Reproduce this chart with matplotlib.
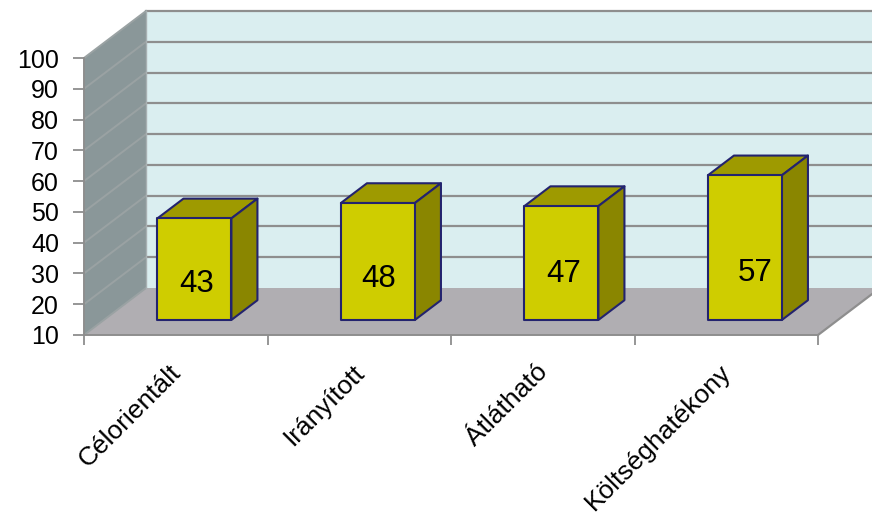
import matplotlib
matplotlib.use("Agg")
import matplotlib.pyplot as plt
from matplotlib.patches import Polygon
import numpy as np

plt.rcParams['font.family'] = ['Liberation Sans', 'DejaVu Sans']

categories = ['Célorientált', 'Irányított', 'Átlátható', 'Költséghatékony']
values = [43, 48, 47, 57]
label_heights = [26.6, 28.3, 29.9, 30.3]
label_shifts = [0.016, 0.005, 0.016, 0.055]
yticks = [10, 20, 30, 40, 50, 60, 70, 80, 90, 100]

W, H = 872, 513
fig = plt.figure(figsize=(W/100, H/100), dpi=100)
L, R, T, B = 84, 818, 58, 335
ax = fig.add_axes([L/W, 1-B/H, (R-L)/W, (B-T)/H])
ax.set_xlim(0, 4)
ax.set_ylim(10, 100)

px_x = (R-L)/4
px_y = (B-T)/90
DX, DY = 62/px_x, 47/px_y     # full depth of the chart box in data units


def P(x, v, d):
    """Oblique projection: depth d in 0..1 shifts a point up and right."""
    return (x + d*DX, v + d*DY)


def poly(points, **kw):
    kw.setdefault('clip_on', False)
    ax.add_patch(Polygon(points, closed=True, **kw))


grid_c = '#8e8e8e'
# back wall, side wall, floor
poly([P(0, 10, 1), P(4, 10, 1), P(4, 100, 1), P(0, 100, 1)], fc='#daeef0', ec='none', zorder=1)
poly([P(0, 10, 0), P(0, 10, 1), P(0, 100, 1), P(0, 100, 0)], fc='#8a9799', ec='none', zorder=1)
poly([P(0, 10, 0), P(4, 10, 0), P(4, 10, 1), P(0, 10, 1)], fc='#b0aeb2', ec='none', zorder=1)
for v in yticks:
    a, b, c = P(0, v, 0), P(0, v, 1), P(4, v, 1)
    if v > 10:
        ax.plot([b[0], c[0]], [b[1], c[1]], color=grid_c, lw=1.6, clip_on=False, zorder=2)
    ax.plot([a[0], b[0]], [a[1], b[1]], color='#9aa2a3', lw=1.4, clip_on=False, zorder=2)
b0, b1 = P(0, 10, 1), P(0, 100, 1)
ax.plot([b0[0], b1[0]], [b0[1], b1[1]], color='#a8b0b2', lw=1.0, clip_on=False, zorder=2)
e0, e1 = P(4, 10, 0), P(4, 10, 1)
ax.plot([e0[0], e1[0]], [e0[1], e1[1]], color=grid_c, lw=1.6, clip_on=False, zorder=2)

# bars
bw = 74/px_x
d0, d1 = 0.32, 0.74
edge = dict(ec='#23236e', lw=1.5, joinstyle='round')
for i, v in enumerate(values):
    x0 = i + 0.5 - bw/2 - 0.0065
    x1 = x0 + bw
    z = 5 + i
    poly([P(x0, v, d0), P(x1, v, d0), P(x1, v, d1), P(x0, v, d1)], fc='#9e9a00', zorder=z, **edge)
    poly([P(x1, 10, d0), P(x1, 10, d1), P(x1, v, d1), P(x1, v, d0)], fc='#8a8600', zorder=z, **edge)
    poly([P(x0, 10, d0), P(x1, 10, d0), P(x1, v, d0), P(x0, v, d0)], fc='#cfcd00', zorder=z, **edge)
    ax.text(i + 0.5 + 0.1 + label_shifts[i], label_heights[i], str(v), ha='center', va='center',
            fontsize=22.5, color='black', zorder=20)

for s in ('top', 'right'):
    ax.spines[s].set_visible(False)
for s in ('left', 'bottom'):
    ax.spines[s].set_color(grid_c)
    ax.spines[s].set_linewidth(1.4)
    ax.spines[s].set_zorder(3)
ax.patch.set_visible(False)

ax.set_yticks(yticks)
ax.set_yticklabels([str(t) for t in yticks], fontsize=18)
ax.tick_params(axis='y', length=8, width=1.3, color=grid_c, pad=10)
ax.set_xticks(range(5))
ax.set_xticklabels([])
ax.tick_params(axis='x', which='major', length=7, width=1.3, color=grid_c)
ax.set_xticks([i + 0.46 for i in range(4)], minor=True)
ax.set_xticklabels(categories, minor=True, rotation=45, ha='right', va='top',
                   rotation_mode='anchor', fontsize=19)
ax.tick_params(axis='x', which='minor', length=0, pad=18)

fig.savefig('out.png', dpi=100)
